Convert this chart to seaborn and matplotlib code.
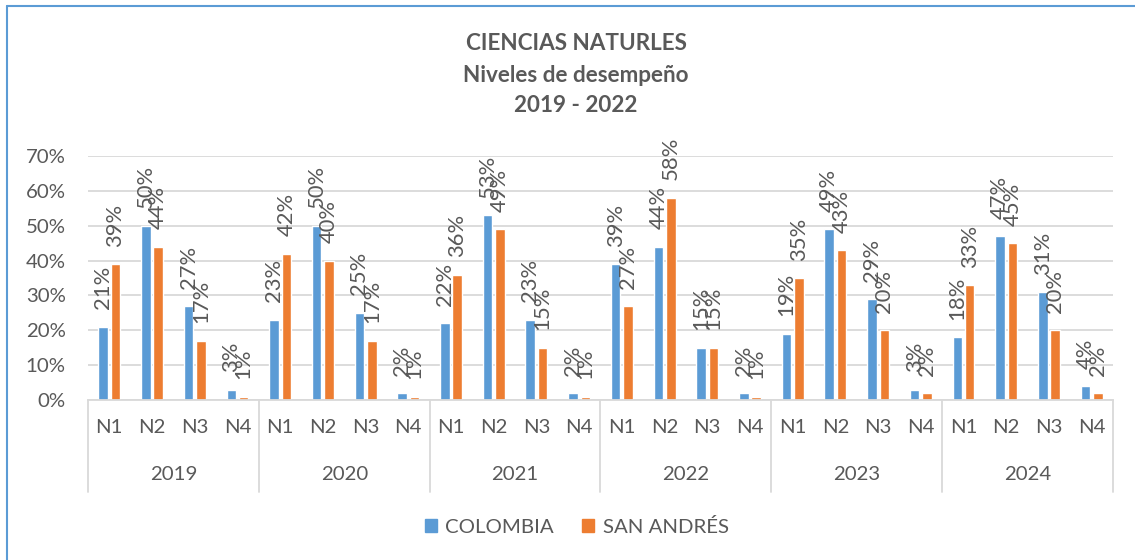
import pandas as pd
import matplotlib
matplotlib.use("Agg")
import matplotlib.pyplot as plt
import matplotlib.transforms as mtransforms
from matplotlib.lines import Line2D
from matplotlib.patches import Patch
import seaborn as sns

# datos
years = ["2019", "2020", "2021", "2022", "2023", "2024"]
levels = ["N1", "N2", "N3", "N4"]
colombia = [21, 50, 27, 3, 23, 50, 25, 2, 22, 53, 23, 2,
            39, 44, 15, 2, 19, 49, 29, 3, 18, 47, 31, 4]
san_andres = [39, 44, 17, 1, 42, 40, 17, 1, 36, 49, 15, 1,
              27, 58, 15, 1, 35, 43, 20, 2, 33, 45, 20, 2]
series = ["COLOMBIA", "SAN ANDRÉS"]
colors = ["#5B9BD5", "#ED7D31"]

cats = [f"{y}-{n}" for y in years for n in levels]
df = pd.DataFrame({
    "cat": cats * 2,
    "valor": colombia + san_andres,
    "serie": [series[0]] * len(cats) + [series[1]] * len(cats),
})

sns.set_style("white")
plt.rcParams["font.family"] = ["Lato", "DejaVu Sans"]
gray = "#595959"
light = "#D9D9D9"
fs = 14.7

fig = plt.figure(figsize=(11.35, 5.6), dpi=100)
ax = fig.add_axes([88 / 1135, 1 - 400 / 560, (1113 - 88) / 1135, 244 / 560])

sns.barplot(data=df, x="cat", y="valor", hue="serie", order=cats,
            hue_order=series, palette=colors, width=0.58, gap=0.23,
            saturation=1, errorbar=None, ax=ax)
ax.get_legend().remove()

# etiquetas de datos
for c in ax.containers:
    ax.bar_label(c, labels=[f"{v:.0f}%" for v in c.datavalues], rotation=90,
                 padding=12.5, fontsize=15.8, color=gray)

ax.set_xlabel("")
ax.set_ylabel("")
ax.set_xlim(-0.5, len(cats) - 0.5)
ax.set_xticks(range(len(cats)))
ax.set_xticklabels(levels * len(years))
ax.tick_params(axis="x", length=0, pad=14, labelsize=fs, labelcolor=gray)

ax.set_ylim(0, 70)
ax.set_yticks(range(0, 71, 10))
ax.set_yticklabels([f"{v}%" for v in range(0, 71, 10)])
ax.tick_params(axis="y", length=0, pad=16, labelsize=fs, labelcolor=gray)

ax.yaxis.grid(True, color=light, lw=1.3)
ax.set_axisbelow(True)
for s in ["left", "top", "right"]:
    ax.spines[s].set_visible(False)
ax.spines["bottom"].set_color(light)
ax.spines["bottom"].set_linewidth(1.3)

# separadores y etiquetas de anio
trans = mtransforms.blended_transform_factory(ax.transData, ax.transAxes)
for i in range(len(years) + 1):
    x = i * 4 - 0.5
    ax.plot([x, x], [0, -0.377], transform=trans, color=light, lw=1.3,
            clip_on=False)
for i, y in enumerate(years):
    ax.text(i * 4 + 1.5, -0.307, y, transform=trans, ha="center",
            va="center", fontsize=fs, color=gray)

# titulo
for txt, ypx in [("CIENCIAS NATURLES", 44), ("Niveles de desempeño", 75),
                 ("2019 - 2022", 106)]:
    fig.text(0.5075, 1 - ypx / 560, txt, ha="center", va="center",
             fontsize=16.2, fontweight="bold", color=gray)

# leyenda
handles = [Patch(color=colors[0]), Patch(color=colors[1])]
fig.legend(handles, series, loc="center", bbox_to_anchor=(0.508, 1 - 527 / 560),
           ncol=2, frameon=False, fontsize=fs, handlelength=0.6,
           handleheight=0.6, handletextpad=0.4, columnspacing=1.4,
           labelcolor=gray)

# borde del grafico
fig.add_artist(Line2D([7 / 1135, 7 / 1135], [0, 1 - 6 / 560],
                      transform=fig.transFigure, color="#5B9BD5", lw=1.5))
fig.add_artist(Line2D([7 / 1135, 1], [1 - 6 / 560, 1 - 6 / 560],
                      transform=fig.transFigure, color="#5B9BD5", lw=1.5))

fig.savefig("out.png", dpi=100)
